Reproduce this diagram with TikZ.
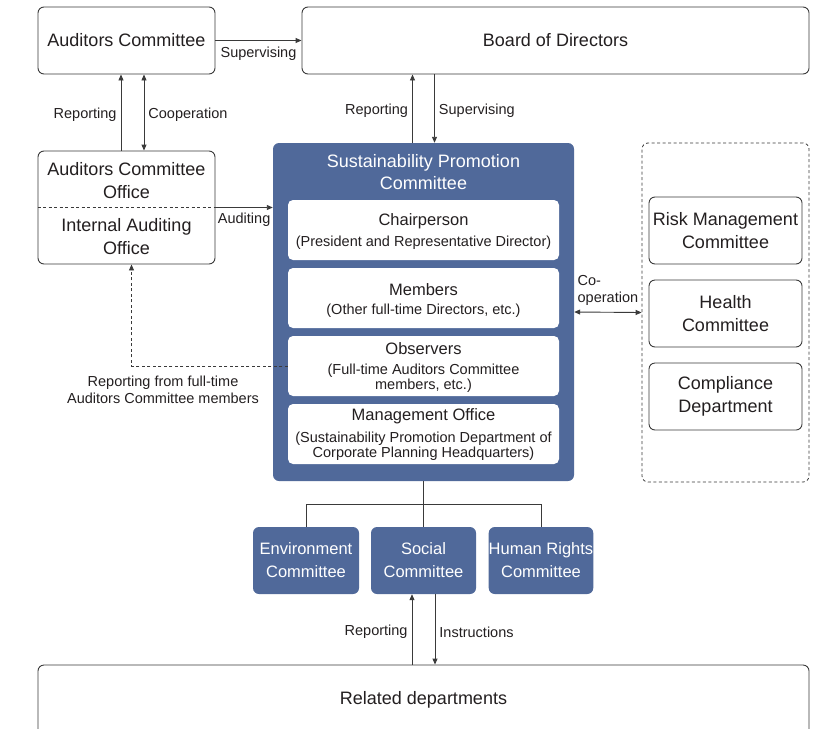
\documentclass[tikz,border=0pt]{standalone}
\usepackage{fontspec}
\setmainfont{Liberation Sans}
\usetikzlibrary{arrows.meta}

\definecolor{spblue}{HTML}{50699A}
\definecolor{lineg}{HTML}{3A3A3A}
\definecolor{txt}{HTML}{231F20}

\begin{document}
\begin{tikzpicture}[x=1pt,y=-1pt,>={Triangle[length=6pt,width=5pt]},
	line/.style={draw=lineg,line width=0.9pt},
	whitebox/.style={draw=lineg,line width=0.9pt,rounded corners=6pt,fill=white,inner sep=0pt},
	bluebox/.style={fill=spblue,rounded corners=6pt,inner sep=0pt},
	innerbox/.style={fill=white,rounded corners=5pt,minimum width=271pt,minimum height=60pt,inner sep=0pt},
	bigtext/.style={text=txt,align=center,font=\fontsize{18}{23}\selectfont},
	midtext/.style={text=txt,align=center,font=\fontsize{16.5}{20}\selectfont},
	smalltext/.style={text=txt,align=center,font=\fontsize{14.5}{15.5}\selectfont},
	lbl/.style={text=txt,font=\fontsize{14.5}{17}\selectfont,inner sep=4pt,yshift=-2.5pt}
	]
	\clip (0,0) rectangle (818,728);
	
	% top row
	\node[whitebox,bigtext,minimum width=177pt,minimum height=67pt] (audc) at (126.5,40.5) {Auditors Committee};
	\node[whitebox,bigtext,minimum width=507pt,minimum height=67pt] (board) at (555.5,40.5) {Board of Directors};
	\draw[line,->] (audc.east) -- (board.west) node[lbl,below,midway] {Supervising};
	
	% auditing offices
	\node[whitebox,minimum width=177pt,minimum height=113pt] (offices) at (126.5,207.5) {};
	\draw[lineg,line width=0.7pt,dash pattern=on 3pt off 2.5pt] (offices.west) -- (offices.east);
	\node[bigtext] (acoffice) at (126.5,180.5) {Auditors Committee\\Office};
	\node[bigtext] (iaoffice) at (126.5,236.5) {Internal Auditing\\Office};
	\draw[line,->] ([xshift=-5.5pt]offices.north) -- ([xshift=-5.5pt]audc.south) node[lbl,left,midway] {Reporting};
	\draw[line,<->] ([xshift=17.5pt]offices.north) -- ([xshift=17.5pt]audc.south) node[lbl,right,midway] {Cooperation};
	
	% sustainability promotion committee
	\node[bluebox,minimum width=301pt,minimum height=338pt] (spc) at (423.5,312) {};
	\node[text=white,align=center,font=\fontsize{18}{22}\selectfont] (spctitle) at (423.5,172.5) {Sustainability Promotion\\Committee};
	\node[innerbox] (chair) at (423.5,230) {};
	\node[innerbox] (members) at (423.5,298) {};
	\node[innerbox] (observers) at (423.5,366) {};
	\node[innerbox] (office) at (423.5,434) {};
	\node[midtext] (chairH) at (423.5,221) {Chairperson};
	\node[smalltext] (chairS) at (423.5,243) {(President and Representative Director)};
	\node[midtext] (membersH) at (423.5,290) {Members};
	\node[smalltext] (membersS) at (423.5,311) {(Other full-time Directors, etc.)};
	\node[midtext] (observersH) at (423.5,349) {Observers};
	\node[smalltext] (observersS) at (423.5,378) {(Full-time Auditors Committee\\members, etc.)};
	\node[midtext] (officeH) at (423.5,416) {Management Office};
	\node[smalltext] (officeS) at (423.5,446) {(Sustainability Promotion Department of\\Corporate Planning Headquarters)};
	
	\draw[line,->] ([xshift=-11pt]spc.north) -- ([xshift=-11pt]spc.north |- board.south) node[lbl,left,midway] {Reporting};
	\draw[line,<-] ([xshift=11pt]spc.north) -- ([xshift=11pt]spc.north |- board.south) node[lbl,right,midway] {Supervising};
	\draw[line,->] (offices.east) -- (offices.east -| spc.west) node[lbl,below,midway,yshift=1pt] {Auditing};
	\draw[line,->,dash pattern=on 3pt off 2.5pt] (observers.west) -| ([xshift=5pt]offices.south);
	\node[lbl,align=center,inner sep=0pt] (fromobs) at (163,387) {Reporting from full-time\\Auditors Committee members};
	
	% other committees
	\node[draw=lineg,line width=0.8pt,dash pattern=on 3pt off 2.5pt,rounded corners=6pt,minimum width=167pt,minimum height=339pt] (others) at (725.5,312.5) {};
	\node[whitebox,bigtext,minimum width=153pt,minimum height=67pt] (risk) at (725.5,230.5) {Risk Management\\Committee};
	\node[whitebox,bigtext,minimum width=153pt,minimum height=67pt] (health) at (725.5,313.5) {Health\\Committee};
	\node[whitebox,bigtext,minimum width=153pt,minimum height=67pt] (compl) at (725.5,396.5) {Compliance\\Department};
	\draw[line,<->] (spc.east) -- (others.west) node[lbl,above,midway,align=left,inner sep=3pt,yshift=6pt,font=\fontsize{14.5}{17}\selectfont] {Co-\\operation};
	
	% sub committees
	\node[bluebox,minimum width=106pt,minimum height=67pt,text=white,align=center,font=\fontsize{16.5}{23}\selectfont] (env) at (306,560.5) {Environment\\Committee};
	\node[bluebox,minimum width=105pt,minimum height=67pt,text=white,align=center,font=\fontsize{16.5}{23}\selectfont] (social) at (423.5,560.5) {Social\\Committee};
	\node[bluebox,minimum width=104pt,minimum height=67pt,text=white,align=center,font=\fontsize{16.5}{23}\selectfont] (human) at (541,560.5) {Human Rights\\Committee};
	\draw[line] (spc.south) -- ++(0,23) coordinate (branch);
	\draw[line] (env.north) |- (branch) -| (human.north);
	\draw[line] (branch) -- (social.north);
	
	% related departments
	\node[whitebox,bigtext,minimum width=771pt,minimum height=70pt] (related) at (423.5,700) {Related departments};
	\draw[line,->] ([xshift=-11.5pt]related.north) -- ([xshift=-11.5pt]social.south) node[lbl,left,midway] {Reporting};
	\draw[line,<-] ([xshift=11.5pt]related.north) -- ([xshift=11.5pt]social.south) node[lbl,right,midway] {Instructions};
\end{tikzpicture}
\end{document}
